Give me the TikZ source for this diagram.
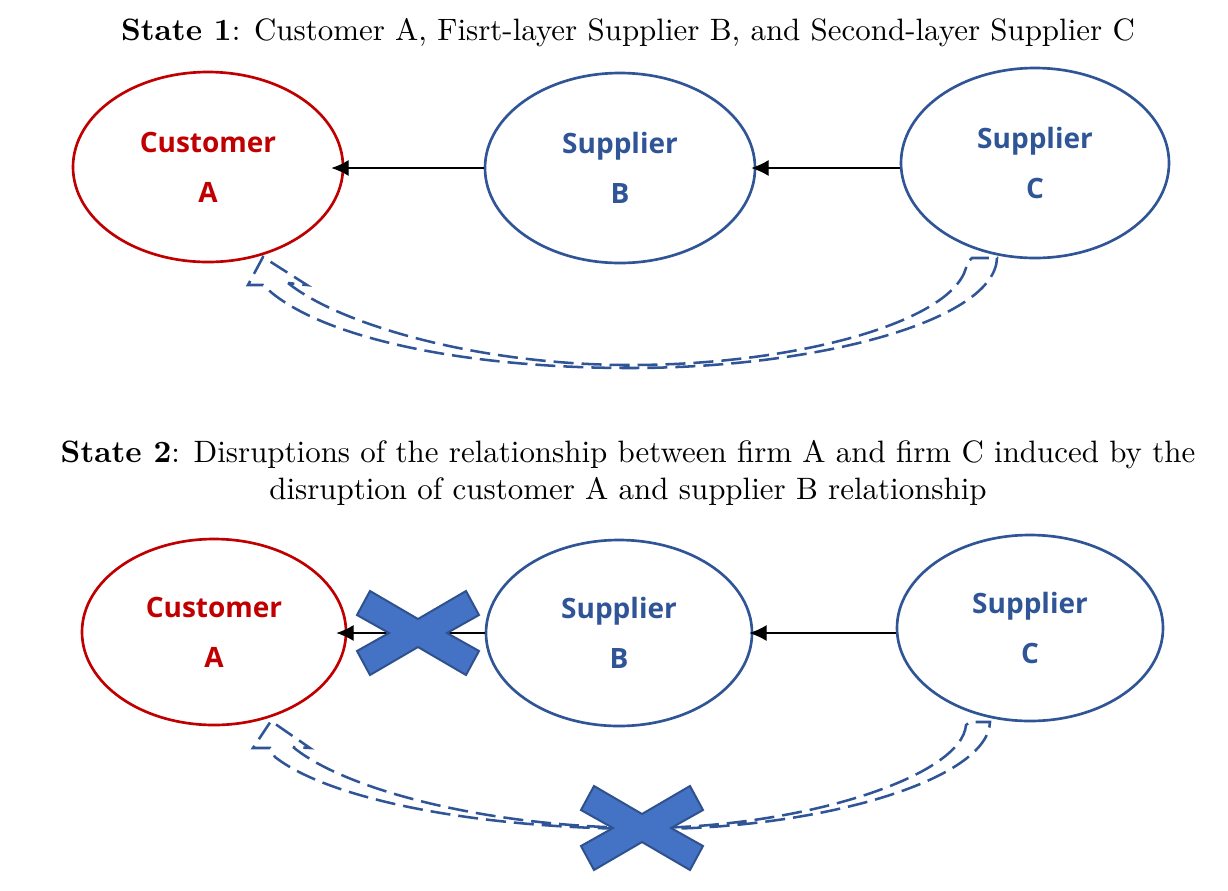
\documentclass[tikz,border=0pt]{standalone}
\usepackage{fontspec}
\newfontfamily\nodefont{Open Sans}
\newfontfamily\titlefont{lmroman10-regular.otf}[BoldFont=lmroman10-bold.otf]
\usetikzlibrary{arrows.meta,shapes.geometric}
\definecolor{cred}{HTML}{C00000}
\definecolor{cblue}{HTML}{2F5597}
\definecolor{xfill}{HTML}{4472C4}
\definecolor{xdraw}{HTML}{2F528F}
\tikzset{
  firm/.style={ellipse, line width=2pt, inner sep=0pt, align=center,
    font=\nodefont\bfseries\fontsize{21}{37.5}\selectfont},
  redfirm/.style={firm, draw=cred, text=cred},
  bluefirm/.style={firm, draw=cblue, text=cblue},
  arr/.style={-{Latex[length=13pt,width=12pt]}, line width=0.9pt, black},
  band/.style={draw=cblue, line width=1.9pt, dash pattern=on 15pt off 6pt, line join=miter},
  title/.style={font=\titlefont\fontsize{23.2}{27.75}\selectfont, align=center},
  crossmark/.pic={
    \draw[fill=xfill, draw=xdraw, line width=1.5pt, line join=miter]
      (-48,-42) -- (0,-14) -- (48,-42) -- (61,-18) -- (29,0) -- (61,18) -- (48,42)
      -- (0,14) -- (-48,42) -- (-61,18) -- (-29,0) -- (-61,-18) -- cycle;
  }
}
\begin{document}
\begin{tikzpicture}[x=0.75pt, y=-0.75pt]
\useasboundingbox (0,0) rectangle (1228,890);

% ---------- State 1 ----------
\node[title] (t1) at (628,33) {\textbf{State 1}: Customer A, Fisrt-layer Supplier B, and Second-layer Supplier C};

\node[redfirm, minimum width=202.5pt, minimum height=142.5pt] (A1) at (208,167) {Customer\\A};
\node[bluefirm, minimum width=202.5pt, minimum height=142.5pt] (B1) at (620,168) {Supplier\\B};
\node[bluefirm, minimum width=201pt, minimum height=142.5pt] (C1) at (1035,163) {Supplier\\C};

\draw[arr] (B1.west) -- ([xshift=-9.75pt]A1.east |- B1.west);
\draw[arr] (C1.west |- B1.west) -- ([xshift=-3.75pt]B1.east);

\draw[band] (288,283) .. controls (340,325) and (480,365) .. (630,365)
  .. controls (800,365) and (960,320) .. (967,263)
  -- (972,258) -- (997,258)
  .. controls (995,320) and (820,368) .. (630,368)
  .. controls (470,368) and (330,340) .. (272,293)
  -- (263,285) -- (248,285) -- (263,257) -- (307,285) -- cycle;

% ---------- State 2 ----------
\node[title] (t2) at (628,473) {\textbf{State 2}: Disruptions of the relationship between firm A and firm C induced by the\\disruption of customer A and supplier B relationship};

\node[redfirm, minimum width=198pt, minimum height=139.5pt] (A2) at (214,632) {Customer\\A};
\node[bluefirm, minimum width=199.5pt, minimum height=139.5pt] (B2) at (619,633) {Supplier\\B};
\node[bluefirm, minimum width=199.5pt, minimum height=139.5pt] (C2) at (1030,628) {Supplier\\C};

\draw[arr] (B2.west) -- ([xshift=-8.25pt]A2.east |- B2.west);
\draw[arr] (C2.west |- B2.west) -- ([xshift=-3pt]B2.east);

\draw[band] (293,747) .. controls (345,790) and (490,828) .. (650,828)
  .. controls (810,826) and (962,775) .. (966,725)
  -- (970,722) -- (990,722)
  .. controls (988,780) and (820,829) .. (650,829)
  .. controls (480,829) and (330,800) .. (275,757)
  -- (270,748) -- (253,748) -- (271,721) -- (310,748) -- cycle;

\coordinate (x1) at (418,633);
\coordinate (x2) at (642,828);
\pic at (x1) {crossmark};
\pic at (x2) {crossmark};
\end{tikzpicture}
\end{document}
